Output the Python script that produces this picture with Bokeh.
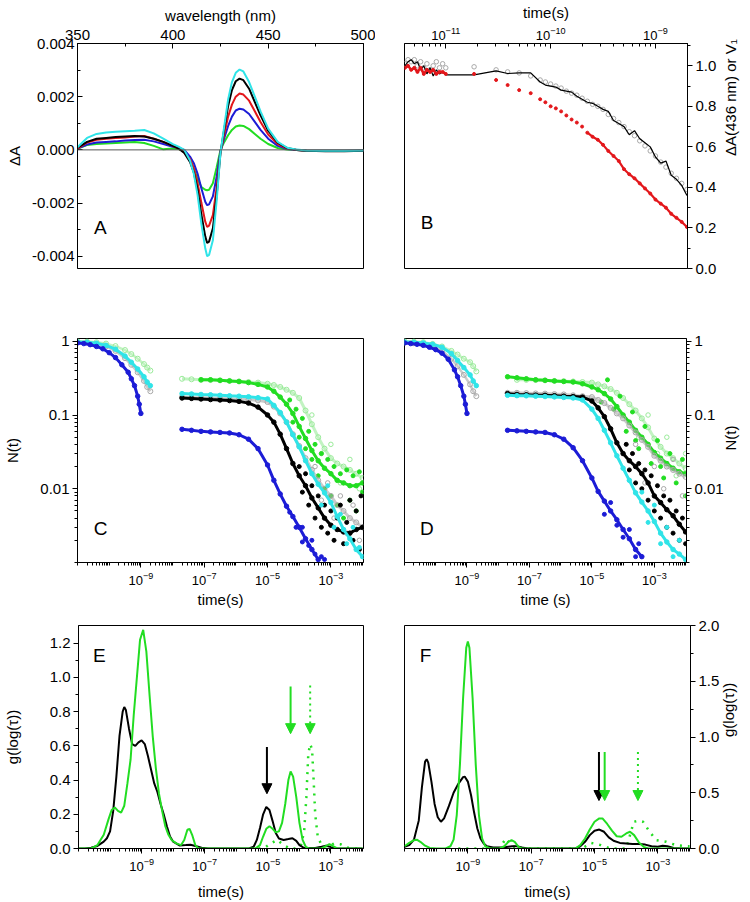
import numpy as np
from bokeh.plotting import figure
from bokeh.models import Range1d, FixedTicker, Span, Label, Arrow, NormalHead
from bokeh.layouts import column, row
from bokeh.embed import file_html
from bokeh.resources import INLINE

FONT = "Liberation Sans"
BLUE = "#1c1cd6"
CYAN = "#30e4e8"
RED = "#e3171b"
GREEN = "#22dd22"
LGREEN = "#9aeb9a"
GRAY = "#a8a8a8"
BLACK = "#000000"

# ---------------- Panel A data (dA in units of 1e-3) ----------------
wl = [350, 355, 360, 365, 370, 375, 380, 385, 390, 395, 400, 403, 406, 409, 411, 413, 415, 417, 418, 419,
      421, 423, 425, 427, 429, 431, 433, 435, 437, 440, 443, 446, 450, 455, 460, 465, 470, 480, 490, 500]
a_cyan = [0.10, 0.45, 0.60, 0.65, 0.68, 0.70, 0.72, 0.75, 0.62, 0.42, 0.22, 0.12, 0.00, -0.40, -0.90, -1.70, -2.80, -3.70, -4.00, -3.95,
          -3.40, -1.90, -0.10, 0.90, 1.90, 2.55, 2.90, 3.02, 2.95, 2.55, 2.00, 1.45, 0.80, 0.30, 0.08, 0.01, -0.02, -0.03, -0.03, -0.02]
a_black = [0.08, 0.30, 0.42, 0.45, 0.48, 0.50, 0.52, 0.50, 0.42, 0.30, 0.15, 0.05, -0.12, -0.45, -0.85, -1.50, -2.45, -3.25, -3.50, -3.45,
           -2.95, -1.70, -0.10, 0.80, 1.65, 2.25, 2.58, 2.68, 2.62, 2.30, 1.80, 1.30, 0.72, 0.27, 0.07, 0.00, -0.03, -0.05, -0.05, -0.03]
a_red = [0.05, 0.28, 0.38, 0.42, 0.45, 0.47, 0.50, 0.52, 0.42, 0.30, 0.15, 0.05, -0.08, -0.35, -0.70, -1.25, -2.00, -2.70, -2.90, -2.85,
         -2.45, -1.40, -0.08, 0.60, 1.25, 1.70, 2.00, 2.12, 2.08, 1.85, 1.45, 1.05, 0.58, 0.22, 0.05, 0.00, -0.02, -0.03, -0.03, -0.02]
a_blue = [0.05, 0.20, 0.28, 0.30, 0.32, 0.35, 0.37, 0.38, 0.32, 0.22, 0.12, 0.08, 0.00, -0.25, -0.50, -0.90, -1.45, -1.95, -2.08, -2.05,
          -1.75, -1.00, -0.05, 0.45, 0.90, 1.25, 1.48, 1.55, 1.52, 1.35, 1.05, 0.75, 0.42, 0.15, 0.03, 0.00, -0.02, -0.03, -0.03, -0.02]
a_green = [0.05, 0.18, 0.22, 0.24, 0.26, 0.28, 0.30, 0.26, 0.15, 0.02, 0.05, 0.03, -0.05, -0.35, -0.70, -1.10, -1.40, -1.50, -1.52, -1.50,
           -1.25, -0.65, 0.00, 0.30, 0.55, 0.75, 0.88, 0.92, 0.90, 0.78, 0.60, 0.42, 0.22, 0.07, 0.01, 0.00, -0.02, -0.03, -0.03, -0.02]

# ---------------- Panel B data (log10 time) ----------------
b_noise_logt = [-11.39, -11.36, -11.33, -11.30, -11.27, -11.24, -11.21, -11.18, -11.15, -11.12, -11.09, -11.06, -11.03, -11.00]
b_black_noise = [1.00, 1.02, 1.03, 1.01, 1.02, 0.98, 1.00, 0.96, 0.99, 0.95, 0.98, 0.96, 0.97, 0.955]
b_gray_noise = [1.01, 1.03, 1.02, 1.03, 1.00, 1.02, 0.99, 1.01, 0.98, 1.00, 1.02, 0.99, 1.01, 0.99]
b_red_noise = [0.99, 1.00, 0.98, 0.99, 0.97, 0.99, 0.96, 0.98, 0.97, 0.98, 0.96, 0.97, 0.97, 0.96]
b_logt = [-10.73, -10.52, -10.41, -10.30, -10.19, -10.10, -10.05, -10.00, -9.95, -9.90, -9.85, -9.80, -9.75, -9.70, -9.65,
          -9.60, -9.55, -9.50, -9.45, -9.40, -9.35, -9.30, -9.25, -9.20, -9.15, -9.10, -9.05, -9.00, -8.95, -8.90,
          -8.85, -8.80, -8.75, -8.70]
b_black = [0.955, 0.975, 0.962, 0.965, 0.965, 0.92, 0.905, 0.90, 0.895, 0.88, 0.875, 0.87, 0.85, 0.835, 0.82,
           0.815, 0.80, 0.785, 0.775, 0.73, 0.715, 0.70, 0.66, 0.68, 0.64, 0.62, 0.60, 0.55, 0.52, 0.53,
           0.46, 0.44, 0.41, 0.36]
b_gray = [0.995, 0.98, 0.97, 0.965, 0.95, 0.93, 0.92, 0.91, 0.90, 0.89, 0.875, 0.865, 0.855, 0.84, 0.825,
          0.81, 0.80, 0.785, 0.76, 0.74, 0.72, 0.70, 0.675, 0.655, 0.63, 0.605, 0.58, 0.555, 0.525, 0.50,
          0.47, 0.445, 0.42, 0.39]
b_red = [0.96, 0.93, 0.905, 0.88, 0.865, 0.835, 0.82, 0.80, 0.79, 0.775, 0.755, 0.735, 0.72, 0.70, 0.67,
         0.65, 0.635, 0.61, 0.58, 0.555, 0.53, 0.49, 0.465, 0.445, 0.42, 0.395, 0.37, 0.34, 0.32, 0.30,
         0.27, 0.25, 0.23, 0.205]

# ---------------- Panels C and D data (log10 time, N(t)) ----------------
short_logt = [-11.0, -10.7, -10.4, -10.1, -9.8, -9.5, -9.3, -9.1, -8.9, -8.8, -8.7]
blue_short_logt = [-11.0, -10.8, -10.6, -10.4, -10.2, -10.0, -9.8, -9.6, -9.4, -9.3, -9.2, -9.1, -9.05, -9.0]
long_logt = [-7.7, -7.4, -7.1, -6.8, -6.5, -6.2, -5.9, -5.6, -5.3, -5.0, -4.8, -4.6, -4.4, -4.2, -4.0,
             -3.8, -3.6, -3.4, -3.2, -3.0, -2.8, -2.6, -2.4, -2.2, -2.0]

c_blue_short = [0.95, 0.93, 0.90, 0.85, 0.79, 0.70, 0.60, 0.48, 0.38, 0.31, 0.25, 0.18, 0.14, 0.105]
c_cyan_short = [0.98, 0.97, 0.94, 0.88, 0.78, 0.63, 0.52, 0.42, 0.33, 0.28, 0.25]
c_gray_short = [0.97, 0.96, 0.92, 0.85, 0.74, 0.59, 0.48, 0.38, 0.29, 0.24, 0.21]
c_lgreen_short = [1.0, 0.99, 0.97, 0.93, 0.86, 0.76, 0.67, 0.58, 0.49, 0.44, 0.40]
c_blue_long = [0.064, 0.062, 0.060, 0.059, 0.058, 0.057, 0.054, 0.047, 0.035, 0.021, 0.013, 0.0085, 0.0058, 0.0042, 0.0030,
               0.0021, 0.0015, 0.0011]
c_black_long = [0.17, 0.168, 0.165, 0.162, 0.16, 0.157, 0.153, 0.145, 0.128, 0.10, 0.08, 0.055, 0.035, 0.022, 0.015,
                0.011, 0.0075, 0.0055, 0.004, 0.0032, 0.0028, 0.0026, 0.0025, 0.0028, 0.003]
c_gray_long = [0.175, 0.173, 0.172, 0.17, 0.168, 0.166, 0.164, 0.162, 0.158, 0.15, 0.13, 0.105, 0.08, 0.055, 0.038,
               0.026, 0.018, 0.013, 0.010, 0.008, 0.006, 0.005, 0.004, 0.0035, 0.003]
c_cyan_long = [0.195, 0.193, 0.19, 0.188, 0.185, 0.182, 0.18, 0.177, 0.172, 0.165, 0.135, 0.108, 0.08, 0.054, 0.037,
               0.024, 0.016, 0.0115, 0.0088, 0.0065, 0.0042, 0.0028, 0.0021, 0.0015, 0.0012]
c_green_long = [0.30, 0.30, 0.295, 0.29, 0.285, 0.275, 0.26, 0.24, 0.21, 0.175, 0.14, 0.105, 0.07,
                0.048, 0.033, 0.024, 0.019, 0.016, 0.013, 0.012, 0.011, 0.011, 0.012]
c_lgreen_long = [0.31, 0.305, 0.30, 0.298, 0.295, 0.29, 0.285, 0.28, 0.275, 0.265, 0.255, 0.24, 0.22, 0.20, 0.17,
                 0.115, 0.075, 0.05, 0.035, 0.026, 0.022, 0.02, 0.018, 0.016, 0.014]
c_black_tail_logt = [-4.0, -3.9, -3.8, -3.7, -3.6, -3.5, -3.4, -3.3, -3.2, -3.1, -3.0, -2.9, -2.8, -2.7, -2.6, -2.5, -2.4, -2.3, -2.2, -2.1, -2.05]
c_black_tail = [0.02, 0.009, 0.016, 0.006, 0.011, 0.004, 0.008, 0.003, 0.006, 0.0025, 0.005, 0.002, 0.004, 0.006, 0.0018, 0.0035, 0.007, 0.002, 0.005, 0.0015, 0.008]
c_green_tail_logt = [-4.3, -4.2, -4.1, -4.0, -3.9, -3.8, -3.7, -3.6, -3.5, -3.4, -3.3, -3.2, -3.1, -3.0, -2.9, -2.8, -2.7, -2.6, -2.5, -2.4, -2.3, -2.2, -2.1, -2.0]
c_green_tail = [0.16, 0.08, 0.12, 0.05, 0.09, 0.035, 0.06, 0.025, 0.04, 0.015, 0.03, 0.01, 0.025, 0.008, 0.02, 0.006, 0.016, 0.004, 0.018, 0.007, 0.015, 0.005, 0.017, 0.009]
c_blue_tail_logt = [-4.3, -4.1, -3.9, -3.9, -3.7, -3.6, -3.5, -3.3, -3.2]
c_blue_tail = [0.0048, 0.0030, 0.0030, 0.0019, 0.0017, 0.0020, 0.0013, 0.0012, 0.0011]
c_cyan_tail_logt = [-3.3, -3.1, -2.9, -2.7, -2.5, -2.3, -2.1]
c_cyan_tail = [0.006, 0.011, 0.003, 0.0045, 0.0018, 0.003, 0.0016]
c_gray_tail_logt = [-3.5, -3.3, -3.1, -2.9, -2.7, -2.5, -2.3, -2.1]
c_gray_tail = [0.02, 0.007, 0.012, 0.004, 0.008, 0.0025, 0.006, 0.002]
c_lgreen_tail_logt = [-3.6, -3.3, -3.0, -2.7, -2.4, -2.1]
c_lgreen_tail = [0.1, 0.03, 0.04, 0.012, 0.025, 0.01]

d_blue_short = [0.95, 0.93, 0.91, 0.88, 0.83, 0.77, 0.69, 0.57, 0.41, 0.33, 0.25, 0.18, 0.14, 0.105]
d_cyan_short = [0.98, 0.97, 0.95, 0.91, 0.83, 0.68, 0.55, 0.44, 0.35, 0.29, 0.25]
d_gray_short = [0.96, 0.94, 0.91, 0.85, 0.74, 0.58, 0.46, 0.35, 0.26, 0.21, 0.18]
d_lgreen_short = [1.0, 0.99, 0.97, 0.92, 0.85, 0.74, 0.66, 0.58, 0.52, 0.46, 0.39]
d_blue_long = [0.062, 0.061, 0.060, 0.059, 0.058, 0.054, 0.047, 0.036, 0.024, 0.014, 0.0092, 0.0068, 0.005, 0.0038, 0.0028,
               0.0021, 0.0015, 0.0012]
d_black_long = [0.195, 0.19, 0.188, 0.186, 0.185, 0.183, 0.18, 0.178, 0.175, 0.155, 0.125, 0.095, 0.065, 0.042, 0.03,
                0.024, 0.02, 0.016, 0.012, 0.008, 0.0065, 0.0052, 0.0043, 0.0033, 0.0026]
d_gray_long = [0.20, 0.20, 0.198, 0.196, 0.195, 0.192, 0.19, 0.185, 0.18, 0.175, 0.16, 0.145, 0.125, 0.105, 0.09,
               0.072, 0.058, 0.046, 0.037, 0.028, 0.024, 0.02, 0.018, 0.016, 0.0145]
d_cyan_long = [0.185, 0.183, 0.182, 0.18, 0.178, 0.176, 0.173, 0.17, 0.16, 0.12, 0.09, 0.062, 0.042, 0.028, 0.019,
               0.013, 0.0088, 0.0066, 0.005, 0.0036, 0.0025, 0.0019, 0.0015, 0.0013, 0.0011]
d_green_long = [0.33, 0.32, 0.31, 0.30, 0.295, 0.29, 0.285, 0.28, 0.265, 0.24, 0.22, 0.195, 0.165, 0.13, 0.10,
                0.08, 0.062, 0.05, 0.04, 0.031, 0.026, 0.022, 0.019, 0.017, 0.016]
d_lgreen_long = [0.30, 0.30, 0.298, 0.295, 0.29, 0.288, 0.285, 0.28, 0.275, 0.26, 0.245, 0.225, 0.20, 0.17,
                 0.14, 0.115, 0.09, 0.068, 0.048, 0.037, 0.03, 0.026, 0.022, 0.019]
d_black_tail_logt = [-3.9, -3.8, -3.7, -3.6, -3.5, -3.4, -3.3, -3.2, -3.1, -3.0, -2.9, -2.8, -2.7, -2.6, -2.5, -2.4, -2.3, -2.2, -2.1, -2.0]
d_black_tail = [0.04, 0.018, 0.03, 0.012, 0.022, 0.01, 0.018, 0.007, 0.015, 0.005, 0.011, 0.004, 0.008, 0.003, 0.007, 0.0025, 0.005, 0.002, 0.004, 0.0018]
d_green_tail_logt = [-4.7, -4.5, -4.3, -4.1, -3.9, -3.7, -3.6, -3.5, -3.3, -3.1, -2.9, -2.8, -2.7, -2.5, -2.3, -2.1, -2.0]
d_green_tail = [0.15, 0.3, 0.12, 0.18, 0.06, 0.11, 0.045, 0.035, 0.07, 0.022, 0.045, 0.02, 0.014, 0.03, 0.012, 0.025, 0.008]
d_cyan_tail_logt = [-3.4, -3.2, -3.0, -2.8, -2.6, -2.4, -2.2]
d_cyan_tail = [0.009, 0.0035, 0.006, 0.0018, 0.003, 0.0012, 0.002]
d_blue_tail_logt = [-4.6, -4.4, -4.2, -4.0, -3.8, -3.6, -3.5]
d_blue_tail = [0.0045, 0.0065, 0.0032, 0.0022, 0.0028, 0.0012, 0.0018]
d_gray_tail_logt = [-3.6, -3.3, -3.0, -2.7, -2.4, -2.1]
d_gray_tail = [0.04, 0.012, 0.02, 0.01, 0.025, 0.008]
d_lgreen_tail_logt = [-3.5, -3.2, -2.9, -2.6, -2.3, -2.0]
d_lgreen_tail = [0.05, 0.1, 0.03, 0.05, 0.015, 0.03]

# ---------------- Panels E and F data (log10 time, g(log tau)) ----------------
e_black_logt = [-11.0, -10.8, -10.6, -10.4, -10.2, -10.1, -10.0, -9.9, -9.8, -9.7, -9.6, -9.55, -9.5, -9.4, -9.3, -9.2, -9.1, -9.0, -8.9, -8.8,
                -8.7, -8.6, -8.5, -8.4, -8.3, -8.2, -8.1, -8.0, -7.8, -7.6, -7.45, -7.3, -7.1, -6.9, -5.6, -5.45, -5.35, -5.25, -5.15, -5.05,
                -4.95, -4.85, -4.75, -4.65, -4.5, -4.35, -4.22, -4.1, -4.0, -3.85, -3.5, -3.3, -3.15, -3.0, -2.8, -2.0]
e_black = [0.0, 0.0, 0.005, 0.015, 0.04, 0.06, 0.10, 0.22, 0.42, 0.66, 0.80, 0.827, 0.81, 0.70, 0.61, 0.60, 0.62, 0.632, 0.61, 0.54,
           0.46, 0.38, 0.33, 0.26, 0.20, 0.13, 0.07, 0.04, 0.018, 0.02, 0.022, 0.015, 0.005, 0.0, 0.0, 0.01, 0.05, 0.12, 0.20, 0.243,
           0.225, 0.16, 0.09, 0.058, 0.05, 0.055, 0.06, 0.045, 0.02, 0.003, 0.003, 0.01, 0.016, 0.008, 0.0, 0.0]
e_green_logt = [-11.0, -10.6, -10.4, -10.2, -10.05, -9.95, -9.85, -9.75, -9.65, -9.55, -9.45, -9.35, -9.25, -9.15, -9.05, -8.95, -8.85, -8.75, -8.65, -8.55,
                -8.45, -8.35, -8.25, -8.15, -8.05, -7.9, -7.75, -7.65, -7.55, -7.48, -7.4, -7.3, -7.2, -5.4, -5.25, -5.15, -5.05, -4.95, -4.85, -4.75,
                -4.65, -4.55, -4.45, -4.35, -4.28, -4.2, -4.1, -4.0, -3.9, -3.8, -3.7, -3.3, -3.15, -3.05, -2.95, -2.8, -2.0]
e_green = [0.0, 0.0, 0.02, 0.08, 0.17, 0.225, 0.24, 0.22, 0.21, 0.25, 0.38, 0.52, 0.78, 1.0, 1.22, 1.278, 1.15, 0.90, 0.66, 0.47,
           0.32, 0.22, 0.13, 0.08, 0.05, 0.03, 0.02, 0.05, 0.11, 0.115, 0.08, 0.02, 0.0, 0.0, 0.02, 0.07, 0.115, 0.13, 0.115, 0.095,
           0.10, 0.15, 0.26, 0.40, 0.45, 0.42, 0.30, 0.15, 0.05, 0.01, 0.0, 0.0, 0.015, 0.025, 0.015, 0.0, 0.0]
e_dot_logt = [-5.3, -5.1, -4.9, -4.7, -4.5, -4.3, -4.1, -3.95, -3.85, -3.78, -3.72, -3.66, -3.6, -3.55, -3.5, -3.42, -3.3, -3.1, -2.9, -2.7, -2.5, -2.2, -2.0]
e_dot = [0.0, 0.005, 0.03, 0.05, 0.02, 0.0, 0.0, 0.02, 0.1, 0.3, 0.55, 0.61, 0.58, 0.40, 0.2, 0.07, 0.02, 0.01, 0.03, 0.025, 0.005, 0.0, 0.0]
e_arrow_logt = [-5.03, -4.28, -3.66]
e_arrow_top = [0.593, 0.947, 0.953]
e_arrow_tip = [0.32, 0.671, 0.671]

f_black_logt = [-11.0, -10.85, -10.7, -10.55, -10.45, -10.35, -10.3, -10.25, -10.15, -10.05, -9.95, -9.85, -9.75, -9.6, -9.45, -9.3, -9.15, -9.1, -9.0, -8.9,
                -8.8, -8.7, -8.6, -8.5, -8.4, -8.2, -7.9, -7.6, -7.45, -7.3, -7.1, -5.6, -5.45, -5.3, -5.15, -5.0, -4.85, -4.7, -4.55, -4.4,
                -4.2, -4.0, -3.8, -3.6, -3.4, -3.2, -3.0, -2.85, -2.7, -2.5, -2.2, -2.0]
f_black = [0.015, 0.03, 0.08, 0.25, 0.55, 0.78, 0.80, 0.77, 0.60, 0.40, 0.28, 0.24, 0.27, 0.38, 0.50, 0.58, 0.64, 0.645, 0.6, 0.48,
           0.32, 0.18, 0.09, 0.045, 0.02, 0.01, 0.01, 0.02, 0.02, 0.01, 0.0, 0.0, 0.02, 0.06, 0.12, 0.16, 0.17, 0.15, 0.10, 0.07,
           0.05, 0.045, 0.04, 0.04, 0.035, 0.02, 0.015, 0.025, 0.02, 0.005, 0.0, 0.0]
f_green_logt = [-11.0, -10.85, -10.7, -10.6, -10.5, -10.35, -10.2, -10.0, -9.7, -9.55, -9.45, -9.35, -9.25, -9.15, -9.05, -9.0, -8.95, -8.85, -8.75, -8.65,
                -8.55, -8.45, -8.3, -8.0, -7.85, -7.72, -7.62, -7.52, -7.4, -7.3, -5.6, -5.45, -5.3, -5.15, -5.0, -4.85, -4.75, -4.6, -4.45, -4.3,
                -4.15, -4.0, -3.88, -3.75, -3.6, -3.45, -3.3, -2.0]
f_green = [0.02, 0.05, 0.075, 0.078, 0.06, 0.025, 0.005, 0.0, 0.0, 0.02, 0.08, 0.3, 0.75, 1.35, 1.8, 1.857, 1.8, 1.35, 0.75, 0.3,
           0.09, 0.02, 0.0, 0.0, 0.02, 0.06, 0.075, 0.06, 0.015, 0.0, 0.0, 0.03, 0.09, 0.17, 0.24, 0.27, 0.27, 0.22, 0.16, 0.11,
           0.105, 0.135, 0.15, 0.12, 0.055, 0.015, 0.0, 0.0]
f_dot_logt = [-9.3, -8.5, -8.0, -7.8, -7.6, -7.2, -5.4, -5.1, -4.8, -4.5, -4.0, -3.85, -3.76, -3.6, -3.47, -3.26, -3.05, -2.74, -2.42, -2.1, -2.0]
f_dot = [0.0, 0.0, 0.0, 0.09, 0.02, 0.0, 0.0, 0.05, 0.03, 0.0, 0.0, 0.15, 0.24, 0.25, 0.24, 0.15, 0.075, 0.06, 0.03, 0.02, 0.02]
f_arrow_logt = [-4.86, -4.68, -3.63]
f_arrow_top = [0.866, 0.866, 0.866]
f_arrow_tip = [0.43, 0.43, 0.43]

# tick definitions
a_xticks = [350, 400, 450, 500]
a_xminor = [375, 425, 475]
a_yticks = [-0.004, -0.002, 0.0, 0.002, 0.004]
a_ylabels = ["-0.004", "-0.002", "0.000", "0.002", "0.004"]
a_yminor = [-0.003, -0.001, 0.001, 0.003]
b_xticks = [1e-11, 1e-10, 1e-9]
b_yticks = [0.0, 0.2, 0.4, 0.6, 0.8, 1.0]
b_yminor = [0.1, 0.3, 0.5, 0.7, 0.9, 1.1]
t_xticks = [1e-9, 1e-7, 1e-5, 1e-3]
n_yticks = [1.0, 0.1, 0.01]
n_ylabels = ["1", "0.1", "0.01"]
e_yticks = [0.0, 0.2, 0.4, 0.6, 0.8, 1.0, 1.2]
e_yminor = [0.1, 0.3, 0.5, 0.7, 0.9, 1.1]
f_yticks = [0.0, 0.5, 1.0, 1.5, 2.0]
f_yminor = [0.25, 0.75, 1.25, 1.75]
log_minor = [k * 10.0 ** e for e in range(-13, 1) for k in range(1, 10)]


def L(a):
    return [10.0 ** v for v in a]


def make_fig(w, h, xr, yr, xt, yt, xloc, yloc, bl, br, bt, bb):
    p = figure(width=w, height=h, x_range=xr, y_range=yr, x_axis_type=xt, y_axis_type=yt,
               x_axis_location=xloc, y_axis_location=yloc, output_backend="svg",
               toolbar_location=None, min_border_left=bl, min_border_right=br,
               min_border_top=bt, min_border_bottom=bb)
    p.xgrid.visible = False
    p.ygrid.visible = False
    p.outline_line_color = "black"
    p.outline_line_width = 1
    p.outline_line_alpha = 1
    p.background_fill_color = "white"
    p.border_fill_color = "white"
    return p


def style_axis(ax, inward=False, tick_size="15px", label="", standoff=5, lstandoff=3):
    ax.axis_line_color = "black"
    ax.major_tick_line_color = "black"
    ax.minor_tick_line_color = "black"
    if inward:
        ax.major_tick_in, ax.major_tick_out, ax.minor_tick_in, ax.minor_tick_out = 5, 0, 3, 0
    else:
        ax.major_tick_in, ax.major_tick_out, ax.minor_tick_in, ax.minor_tick_out = 0, 5, 0, 3
    ax.major_label_text_font = FONT
    ax.major_label_text_font_size = tick_size
    ax.major_label_text_color = "black"
    ax.major_label_standoff = lstandoff
    ax.axis_label = label if label else None
    ax.axis_label_text_font = FONT
    ax.axis_label_text_font_size = "15px"
    ax.axis_label_text_font_style = "normal"
    ax.axis_label_text_color = "black"
    ax.axis_label_standoff = standoff


def letter(p, x, y, t):
    p.add_layout(Label(x=x, y=y, text=t, text_font=FONT, text_font_size="19px",
                       text_align="center", text_baseline="middle", text_color="black"))


def right_label(ax, t, standoff):
    ax.axis_label = t
    ax.axis_label_standoff = standoff
    if "axis_label_orientation" in ax.properties():
        ax.axis_label_orientation = np.pi / 2
        ax.axis_label_text_align = "center"
        ax.axis_label_text_baseline = "middle"


W = 375
LB, RB = 77, 12
RL, RR = 29, 60
XR_T = (1e-11, 10 ** -1.97)

# ---------------- Panel A ----------------
pA = make_fig(W, 290, Range1d(350, 500), Range1d(-0.00446, 0.004), "linear", "linear",
              "above", "left", LB, RB, 43, 22)
style_axis(pA.xaxis[0], inward=True, label="wavelength (nm)", standoff=3, lstandoff=4)
pA.xaxis[0].ticker = FixedTicker(ticks=a_xticks, minor_ticks=a_xminor)
style_axis(pA.yaxis[0], inward=True, label="ΔA", standoff=6, lstandoff=3)
pA.yaxis[0].ticker = FixedTicker(ticks=a_yticks, minor_ticks=a_yminor)
pA.yaxis[0].major_label_overrides = dict(zip(a_yticks, a_ylabels))
pA.add_layout(Span(location=0, dimension="width", line_color="#555555", line_width=1))
for vals, col in [(a_green, GREEN), (a_blue, BLUE), (a_red, RED), (a_black, BLACK), (a_cyan, CYAN)]:
    pA.line(wl, [v * 1e-3 for v in vals], line_color=col, line_width=2)
letter(pA, 362, -0.0029, "A")

# ---------------- Panel B ----------------
pB = make_fig(W, 290, Range1d(4.04e-12, 2.02e-9), Range1d(0, 1.11), "log", "linear",
              "above", "right", RL, RR, 43, 22)
style_axis(pB.xaxis[0], inward=True, label="time(s)", standoff=3, lstandoff=4, tick_size="13px")
pB.xaxis[0].ticker = FixedTicker(ticks=b_xticks, minor_ticks=log_minor)
style_axis(pB.yaxis[0], inward=False, lstandoff=3)
pB.yaxis[0].ticker = FixedTicker(ticks=b_yticks, minor_ticks=b_yminor)
pB.yaxis[0].major_label_overrides = {t: f"{t:.1f}" for t in b_yticks}
right_label(pB.yaxis[0], "ΔA(436 nm) or V₁", 11)
pB.scatter(L(b_noise_logt + b_logt), b_gray_noise + b_gray, marker="circle", size=4.5,
           fill_color=None, line_color=GRAY, line_width=1)
pB.line(L(b_noise_logt + b_logt), b_black_noise + b_black, line_color=BLACK, line_width=1.2)
pB.line(L(b_noise_logt), b_red_noise, line_color=RED, line_width=2.5)
pB.line(L(b_logt[14:]), b_red[14:], line_color=RED, line_width=2.2)
pB.scatter(L(b_noise_logt + b_logt), b_red_noise + b_red, marker="circle", size=3,
           fill_color=RED, line_color=RED)
letter(pB, 6.65e-12, 0.228, "B")


# ---------------- Panels C and D ----------------
def draw_kin(p, lt, v, col, filled=True, lw=3.0, line_alpha=1.0):
    x = L(lt)
    p.line(x, v, line_color=col, line_width=lw, line_alpha=line_alpha)
    if filled:
        p.scatter(x, v, marker="circle", size=4.5, fill_color=col, line_color=col)
    else:
        p.scatter(x, v, marker="circle", size=5, fill_color=None, line_color=col, line_width=1)


def draw_tail(p, lt, v, col, filled=True):
    if filled:
        p.scatter(L(lt), v, marker="circle", size=4, fill_color=col, line_color=col)
    else:
        p.scatter(L(lt), v, marker="circle", size=4.5, fill_color=None, line_color=col)


def kin_fig(right):
    p = make_fig(W, 320, Range1d(*XR_T), Range1d(0.001, 1.09), "log", "log",
                 "below", "right" if right else "left", RL if right else LB, RR if right else RB, 48, 48)
    style_axis(p.xaxis[0], label="time(s)" if not right else "time (s)", standoff=3, lstandoff=4, tick_size="13px")
    p.xaxis[0].ticker = FixedTicker(ticks=t_xticks, minor_ticks=log_minor)
    style_axis(p.yaxis[0], label=None if right else "N(t)", standoff=16, lstandoff=3)
    p.yaxis[0].ticker = FixedTicker(ticks=n_yticks, minor_ticks=log_minor)
    p.yaxis[0].major_label_overrides = dict(zip(n_yticks, n_ylabels))
    return p


pC = kin_fig(False)
draw_kin(pC, short_logt, c_lgreen_short, LGREEN, filled=False, lw=2.5, line_alpha=0.6)
draw_kin(pC, short_logt, c_gray_short, GRAY, filled=False, lw=2.5, line_alpha=0.6)
draw_kin(pC, short_logt, c_cyan_short, CYAN)
draw_kin(pC, blue_short_logt, c_blue_short, BLUE)
draw_kin(pC, long_logt, c_lgreen_long, LGREEN, filled=False, lw=3, line_alpha=0.6)
draw_tail(pC, c_lgreen_tail_logt, c_lgreen_tail, LGREEN, filled=False)
draw_kin(pC, long_logt[2:], c_green_long, GREEN)
draw_tail(pC, c_green_tail_logt, c_green_tail, GREEN)
draw_kin(pC, long_logt, c_gray_long, GRAY, filled=False, lw=3, line_alpha=0.6)
draw_tail(pC, c_gray_tail_logt, c_gray_tail, GRAY, filled=False)
draw_kin(pC, long_logt, c_black_long, BLACK)
draw_tail(pC, c_black_tail_logt, c_black_tail, BLACK)
draw_kin(pC, long_logt, c_cyan_long, CYAN)
draw_tail(pC, c_cyan_tail_logt, c_cyan_tail, CYAN)
draw_kin(pC, long_logt[:18], c_blue_long, BLUE)
draw_tail(pC, c_blue_tail_logt, c_blue_tail, BLUE)
letter(pC, 5.4e-11, 0.00286, "C")

pD = kin_fig(True)
right_label(pD.yaxis[0], "N(t)", 4)
draw_kin(pD, short_logt, d_lgreen_short, LGREEN, filled=False, lw=2.5, line_alpha=0.6)
draw_kin(pD, short_logt, d_gray_short, GRAY, filled=False, lw=2.5, line_alpha=0.6)
draw_kin(pD, short_logt, d_cyan_short, CYAN)
draw_kin(pD, blue_short_logt, d_blue_short, BLUE)
draw_kin(pD, long_logt[1:], d_lgreen_long, LGREEN, filled=False, lw=3, line_alpha=0.6)
draw_tail(pD, d_lgreen_tail_logt, d_lgreen_tail, LGREEN, filled=False)
draw_kin(pD, long_logt, d_green_long, GREEN)
draw_tail(pD, d_green_tail_logt, d_green_tail, GREEN)
draw_kin(pD, long_logt, d_gray_long, GRAY, filled=False, lw=3, line_alpha=0.6)
draw_tail(pD, d_gray_tail_logt, d_gray_tail, GRAY, filled=False)
draw_kin(pD, long_logt, d_black_long, BLACK)
draw_tail(pD, d_black_tail_logt, d_black_tail, BLACK)
draw_kin(pD, long_logt, d_cyan_long, CYAN)
draw_tail(pD, d_cyan_tail_logt, d_cyan_tail, CYAN)
draw_kin(pD, long_logt[:18], d_blue_long, BLUE)
draw_tail(pD, d_blue_tail_logt, d_blue_tail, BLUE)
letter(pD, 5.2e-11, 0.00286, "D")


# ---------------- Panels E and F ----------------
def dist_fig(right, ytop, yt, ym):
    p = make_fig(W, 292, Range1d(*XR_T), Range1d(0, ytop), "log", "linear",
                 "below", "right" if right else "left", RL if right else LB, RR if right else RB, 15, 54)
    style_axis(p.xaxis[0], label="time(s)", standoff=9, lstandoff=4, tick_size="13px")
    p.xaxis[0].ticker = FixedTicker(ticks=t_xticks, minor_ticks=log_minor)
    style_axis(p.yaxis[0], label=None if right else "g(log(τ))", standoff=26, lstandoff=3)
    p.yaxis[0].ticker = FixedTicker(ticks=yt, minor_ticks=ym)
    p.yaxis[0].major_label_overrides = {t: f"{t:.1f}" for t in yt}
    return p


def arrows(p, lt, top, tip):
    for x, y0, y1, col, dash in zip(lt, top, tip, [BLACK, GREEN, GREEN], ["solid", "solid", "2 4"]):
        p.add_layout(Arrow(end=NormalHead(size=10, fill_color=col, line_color=col),
                           x_start=10 ** x, y_start=y0, x_end=10 ** x, y_end=y1,
                           line_color=col, line_width=2, line_dash=dash))


pE = dist_fig(False, 1.303, e_yticks, e_yminor)
pE.line(L(e_dot_logt), e_dot, line_color=GREEN, line_width=2.5, line_dash="2 6")
pE.line(L(e_black_logt), e_black, line_color=BLACK, line_width=2)
pE.line(L(e_green_logt), e_green, line_color=GREEN, line_width=2)
arrows(pE, e_arrow_logt, e_arrow_top, e_arrow_tip)
letter(pE, 4.6e-11, 1.13, "E")

pF = dist_fig(True, 2.0, f_yticks, f_yminor)
right_label(pF.yaxis[0], "g(log(τ))", 6)
pF.line(L(f_dot_logt), f_dot, line_color=GREEN, line_width=2.5, line_dash="2 6")
pF.line(L(f_black_logt), f_black, line_color=BLACK, line_width=2)
pF.line(L(f_green_logt), f_green, line_color=GREEN, line_width=2)
arrows(pF, f_arrow_logt, f_arrow_top, f_arrow_tip)
letter(pF, 4.6e-11, 1.73, "F")

layout = column(row(pA, pB), row(pC, pD), row(pE, pF))
open("out.html", "w").write(file_html(layout, INLINE))
